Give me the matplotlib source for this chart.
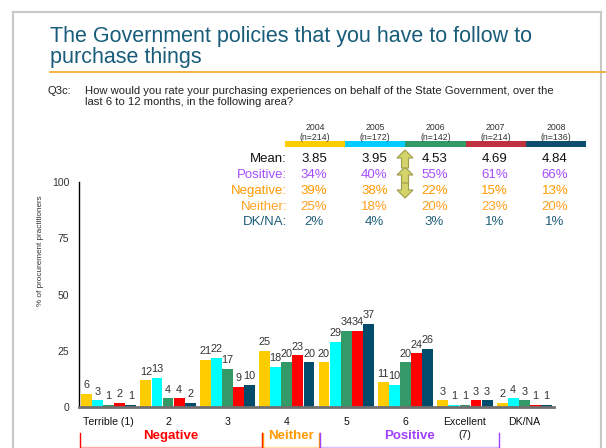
import matplotlib
matplotlib.use("Agg")
import matplotlib.pyplot as plt
from matplotlib.patches import Rectangle, Polygon
from matplotlib.lines import Line2D
import numpy as np

plt.rcParams['font.family'] = ['Liberation Sans', 'DejaVu Sans']

categories = ["Terrible (1)", "2", "3", "4", "5", "6", "Excellent\n(7)", "DK/NA"]
years = ["2004", "2005", "2006", "2007", "2008"]
sample_sizes = ["(n=214)", "(n=172)", "(n=142)", "(n=214)", "(n=136)"]
values_2004 = [6, 12, 21, 25, 20, 11, 3, 2]
values_2005 = [3, 13, 22, 18, 29, 10, 1, 4]
values_2006 = [1, 4, 17, 20, 34, 20, 1, 3]
values_2007 = [2, 4, 9, 23, 34, 24, 3, 1]
values_2008 = [1, 2, 10, 20, 37, 26, 3, 1]
series = [values_2004, values_2005, values_2006, values_2007, values_2008]
bar_colors = ["#FFCC00", "#00FFFF", "#339966", "#FF0000", "#004C6A"]
header_colors = ["#FFCC00", "#00CCFF", "#339966", "#C0303F", "#0B4F6C"]

row_labels = ["Mean:", "Positive:", "Negative:", "Neither:", "DK/NA:"]
row_colors = ["#111111", "#A64DFF", "#FF9900", "#FFA020", "#1F5F7A"]
mean_vals = ["3.85", "3.95", "4.53", "4.69", "4.84"]
positive_vals = ["34%", "40%", "55%", "61%", "66%"]
negative_vals = ["39%", "38%", "22%", "15%", "13%"]
neither_vals = ["25%", "18%", "20%", "23%", "20%"]
dkna_vals = ["2%", "4%", "3%", "1%", "1%"]
table_rows = [mean_vals, positive_vals, negative_vals, neither_vals, dkna_vals]

W, H = 606, 448
fig = plt.figure(figsize=(W / 100, H / 100), dpi=100)
fig.patch.set_facecolor("white")

def fx(x):
    return x / W

def fy(y):
    return 1 - y / H

def ftext(x, y, s, **kw):
    fig.text(fx(x), fy(y), s, **kw)

# slide frame
fig.add_artist(Line2D([fx(13), fx(13)], [fy(12.5), 0], color="#C8C8C8", lw=1.5))
fig.add_artist(Line2D([fx(13), fx(601)], [fy(12.5), fy(12.5)], color="#C8C8C8", lw=1.5))
fig.add_artist(Line2D([fx(601), fx(601)], [fy(12.5), 0], color="#C8C8C8", lw=1.5))

# title
title_color = "#185C7A"
ftext(50, 41.7, "The Government policies that you have to follow to", fontsize=15.5,
      color=title_color, va="baseline", ha="left")
ftext(50, 63.3, "purchase things", fontsize=15.5, color=title_color, va="baseline", ha="left")
fig.add_artist(Line2D([fx(50), fx(606)], [fy(72.3), fy(72.3)], color="#F5A623", lw=1.2))

# question
ftext(47.5, 93.8, "Q3c:", fontsize=8.1, color="#222222", va="baseline")
ftext(85, 93.8, "How would you rate your purchasing experiences on behalf of the State Government, over the",
      fontsize=8.1, color="#222222", va="baseline")
ftext(85, 104.8, "last 6 to 12 months, in the following area?", fontsize=8.1, color="#222222", va="baseline")

# header table
col_left = 285
col_w = 60.2
for i, yr in enumerate(years):
    cx = col_left + col_w * (i + 0.5)
    ftext(cx, 128, yr, fontsize=6.3, color="#333333", ha="center", va="center")
    ftext(cx, 137.5, sample_sizes[i], fontsize=6.3, color="#333333", ha="center", va="center")
    fig.add_artist(Rectangle((fx(col_left + col_w * i), fy(147)), col_w / W, 6 / H,
                             transform=fig.transFigure, color=header_colors[i], lw=0))

row_y = [159, 175.5, 191, 206.5, 222]
for r, (lab, col) in enumerate(zip(row_labels, row_colors)):
    ftext(287, row_y[r], lab, fontsize=9.5, color=col, ha="right", va="center")
    for i in range(5):
        cx = col_left + col_w * (i + 0.5) - 1
        ftext(cx, row_y[r], table_rows[r][i], fontsize=9.5, color=col, ha="center", va="center")

# arrows
arrow_fc = "#D4D46A"
arrow_ec = "#9C9C4A"
def up_arrow(cx, top, bottom):
    hw, sw, hh = 8, 3.5, 8
    pts = [(cx, top), (cx + hw, top + hh), (cx + sw, top + hh), (cx + sw, bottom),
           (cx - sw, bottom), (cx - sw, top + hh), (cx - hw, top + hh)]
    fig.add_artist(Polygon([(fx(x), fy(y)) for x, y in pts], closed=True,
                           transform=fig.transFigure, fc=arrow_fc, ec=arrow_ec, lw=0.8))
def down_arrow(cx, top, bottom):
    hw, sw, hh = 8, 3.5, 8
    pts = [(cx, bottom), (cx + hw, bottom - hh), (cx + sw, bottom - hh), (cx + sw, top),
           (cx - sw, top), (cx - sw, bottom - hh), (cx - hw, bottom - hh)]
    fig.add_artist(Polygon([(fx(x), fy(y)) for x, y in pts], closed=True,
                           transform=fig.transFigure, fc=arrow_fc, ec=arrow_ec, lw=0.8))
down_arrow(405, 178, 198)
up_arrow(405, 167, 183)
up_arrow(405, 150, 168)

# main bar axes
ax = fig.add_axes([fx(79), 1 - 407 / H, 475 / W, 225 / H])
n = len(categories)
x = np.arange(n)
bw = 0.183
offsets = (np.arange(5) - 2) * (bw + 0.004)
for s, (vals, col) in enumerate(zip(series, bar_colors)):
    ax.bar(x + offsets[s], vals, width=bw, color=col, lw=0, zorder=2)
    for xi, v in zip(x + offsets[s], vals):
        ax.text(xi, v + 1.5, str(v), ha="center", va="bottom", fontsize=7.8, color="#333333")

ax.set_xlim(-0.5, n - 0.5)
ax.set_ylim(0, 100)
ax.set_yticks([0, 25, 50, 75, 100])
ax.set_yticklabels(["0", "25", "50", "75", "100"], fontsize=7.5, color="#333333")
ax.tick_params(axis="y", length=0, pad=7)
ax.set_xticks(x)
ax.set_xticklabels(categories, fontsize=7.6, color="#111111", linespacing=1.45, va="top")
ax.tick_params(axis="x", length=0, pad=7)
for sp in ["top", "right"]:
    ax.spines[sp].set_visible(False)
ax.spines["left"].set_color("#000000")
ax.spines["left"].set_linewidth(1.0)
ax.spines["bottom"].set_color("#707070")
ax.spines["bottom"].set_linewidth(2)
ax.set_facecolor("none")

ftext(41, 251, "% of procurement practitioners", fontsize=5.9, color="#333333",
      rotation=90, ha="center", va="center")

# group brackets
groups = [("Negative", "#FF0000", 80, 262), ("Neither", "#FF9900", 263, 319),
          ("Positive", "#A040FF", 320, 499)]
for name, col, x0, x1 in groups:
    fig.add_artist(Line2D([fx(x0), fx(x0)], [fy(433), fy(447)], color=col, lw=1.0))
    fig.add_artist(Line2D([fx(x1), fx(x1)], [fy(433), fy(447)], color=col, lw=1.0))
    fig.add_artist(Line2D([fx(x0), fx(x1)], [fy(446.5), fy(446.5)], color=col, lw=1.0, alpha=0.35))
    ftext((x0 + x1) / 2, 436, name, fontsize=9.5, fontweight="bold", color=col,
          ha="center", va="center")

fig.savefig("out.png", dpi=100, facecolor="white")
